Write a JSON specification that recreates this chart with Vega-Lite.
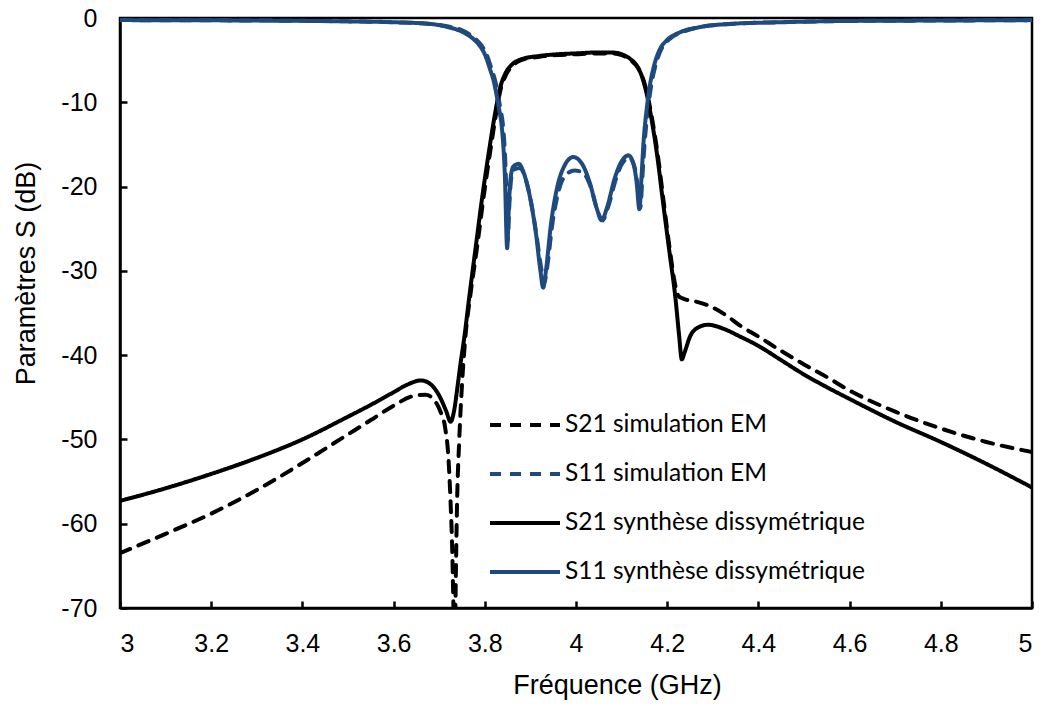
{
  "$schema": "https://vega.github.io/schema/vega-lite/v6.json",
  "width": 912,
  "height": 590,
  "autosize": {"type": "none"},
  "padding": {"left": 120, "top": 18, "right": 10, "bottom": 98},
  "background": "white",
  "config": {
    "view": {"stroke": "black", "strokeWidth": 2.5},
    "axis": {
      "labelFont": "Liberation Sans",
      "titleFont": "Liberation Sans",
      "labelFontSize": 25,
      "titleFontSize": 27,
      "labelColor": "black",
      "titleColor": "black",
      "titleFontWeight": "normal",
      "domainColor": "black",
      "domainWidth": 2.5,
      "tickColor": "black",
      "tickWidth": 2.5,
      "tickSize": -7,
      "grid": false
    },
    "legend": {
      "labelFont": "Lato",
      "labelFontSize": 24.5,
      "labelColor": "black",
      "labelLimit": 0
    }
  },
  "data": {"values": [
    {"f":3.0,"v":-63.5,"s":"S21 simulation EM"},
    {"f":3.1,"v":-61.2,"s":"S21 simulation EM"},
    {"f":3.2,"v":-58.8,"s":"S21 simulation EM"},
    {"f":3.3,"v":-56.0,"s":"S21 simulation EM"},
    {"f":3.4,"v":-52.8,"s":"S21 simulation EM"},
    {"f":3.5,"v":-49.4,"s":"S21 simulation EM"},
    {"f":3.55,"v":-47.7,"s":"S21 simulation EM"},
    {"f":3.6,"v":-46.0,"s":"S21 simulation EM"},
    {"f":3.64,"v":-44.9,"s":"S21 simulation EM"},
    {"f":3.67,"v":-44.7,"s":"S21 simulation EM"},
    {"f":3.69,"v":-45.4,"s":"S21 simulation EM"},
    {"f":3.702,"v":-46.6,"s":"S21 simulation EM"},
    {"f":3.713,"v":-48.6,"s":"S21 simulation EM"},
    {"f":3.72,"v":-52.0,"s":"S21 simulation EM"},
    {"f":3.725,"v":-57.5,"s":"S21 simulation EM"},
    {"f":3.729,"v":-64.0,"s":"S21 simulation EM"},
    {"f":3.732,"v":-72.0,"s":"S21 simulation EM"},
    {"f":3.734,"v":-76.0,"s":"S21 simulation EM"},
    {"f":3.736,"v":-68.0,"s":"S21 simulation EM"},
    {"f":3.739,"v":-58.0,"s":"S21 simulation EM"},
    {"f":3.744,"v":-50.0,"s":"S21 simulation EM"},
    {"f":3.75,"v":-43.5,"s":"S21 simulation EM"},
    {"f":3.758,"v":-37.5,"s":"S21 simulation EM"},
    {"f":3.768,"v":-33.0,"s":"S21 simulation EM"},
    {"f":3.783,"v":-27.2,"s":"S21 simulation EM"},
    {"f":3.798,"v":-21.0,"s":"S21 simulation EM"},
    {"f":3.812,"v":-15.8,"s":"S21 simulation EM"},
    {"f":3.824,"v":-11.6,"s":"S21 simulation EM"},
    {"f":3.835,"v":-8.4,"s":"S21 simulation EM"},
    {"f":3.847,"v":-6.7,"s":"S21 simulation EM"},
    {"f":3.862,"v":-5.6,"s":"S21 simulation EM"},
    {"f":3.88,"v":-5.0,"s":"S21 simulation EM"},
    {"f":3.92,"v":-4.6,"s":"S21 simulation EM"},
    {"f":3.96,"v":-4.4,"s":"S21 simulation EM"},
    {"f":4.0,"v":-4.3,"s":"S21 simulation EM"},
    {"f":4.04,"v":-4.2,"s":"S21 simulation EM"},
    {"f":4.08,"v":-4.2,"s":"S21 simulation EM"},
    {"f":4.1,"v":-4.4,"s":"S21 simulation EM"},
    {"f":4.12,"v":-5.0,"s":"S21 simulation EM"},
    {"f":4.137,"v":-6.0,"s":"S21 simulation EM"},
    {"f":4.147,"v":-7.2,"s":"S21 simulation EM"},
    {"f":4.157,"v":-9.2,"s":"S21 simulation EM"},
    {"f":4.167,"v":-12.0,"s":"S21 simulation EM"},
    {"f":4.18,"v":-16.5,"s":"S21 simulation EM"},
    {"f":4.192,"v":-21.7,"s":"S21 simulation EM"},
    {"f":4.207,"v":-28.0,"s":"S21 simulation EM"},
    {"f":4.218,"v":-31.8,"s":"S21 simulation EM"},
    {"f":4.225,"v":-33.0,"s":"S21 simulation EM"},
    {"f":4.235,"v":-33.3,"s":"S21 simulation EM"},
    {"f":4.26,"v":-33.6,"s":"S21 simulation EM"},
    {"f":4.29,"v":-34.1,"s":"S21 simulation EM"},
    {"f":4.33,"v":-35.3,"s":"S21 simulation EM"},
    {"f":4.36,"v":-36.5,"s":"S21 simulation EM"},
    {"f":4.4,"v":-37.8,"s":"S21 simulation EM"},
    {"f":4.45,"v":-39.5,"s":"S21 simulation EM"},
    {"f":4.5,"v":-41.1,"s":"S21 simulation EM"},
    {"f":4.55,"v":-42.6,"s":"S21 simulation EM"},
    {"f":4.6,"v":-44.2,"s":"S21 simulation EM"},
    {"f":4.7,"v":-46.7,"s":"S21 simulation EM"},
    {"f":4.8,"v":-48.7,"s":"S21 simulation EM"},
    {"f":4.9,"v":-50.3,"s":"S21 simulation EM"},
    {"f":5.0,"v":-51.5,"s":"S21 simulation EM"},

    {"f":3.0,"v":-0.25,"s":"S11 simulation EM"},
    {"f":3.3,"v":-0.3,"s":"S11 simulation EM"},
    {"f":3.5,"v":-0.4,"s":"S11 simulation EM"},
    {"f":3.6,"v":-0.5,"s":"S11 simulation EM"},
    {"f":3.68,"v":-0.7,"s":"S11 simulation EM"},
    {"f":3.72,"v":-1.0,"s":"S11 simulation EM"},
    {"f":3.756,"v":-1.6,"s":"S11 simulation EM"},
    {"f":3.778,"v":-2.4,"s":"S11 simulation EM"},
    {"f":3.792,"v":-3.2,"s":"S11 simulation EM"},
    {"f":3.803,"v":-4.2,"s":"S11 simulation EM"},
    {"f":3.814,"v":-5.9,"s":"S11 simulation EM"},
    {"f":3.823,"v":-7.5,"s":"S11 simulation EM"},
    {"f":3.829,"v":-9.1,"s":"S11 simulation EM"},
    {"f":3.835,"v":-11.0,"s":"S11 simulation EM"},
    {"f":3.84,"v":-12.8,"s":"S11 simulation EM"},
    {"f":3.846,"v":-18.5,"s":"S11 simulation EM"},
    {"f":3.85,"v":-26.5,"s":"S11 simulation EM"},
    {"f":3.854,"v":-22.0,"s":"S11 simulation EM"},
    {"f":3.858,"v":-19.0,"s":"S11 simulation EM"},
    {"f":3.864,"v":-18.0,"s":"S11 simulation EM"},
    {"f":3.877,"v":-17.8,"s":"S11 simulation EM"},
    {"f":3.89,"v":-19.2,"s":"S11 simulation EM"},
    {"f":3.902,"v":-22.0,"s":"S11 simulation EM"},
    {"f":3.914,"v":-26.0,"s":"S11 simulation EM"},
    {"f":3.924,"v":-29.8,"s":"S11 simulation EM"},
    {"f":3.93,"v":-31.5,"s":"S11 simulation EM"},
    {"f":3.937,"v":-29.5,"s":"S11 simulation EM"},
    {"f":3.948,"v":-24.5,"s":"S11 simulation EM"},
    {"f":3.962,"v":-20.5,"s":"S11 simulation EM"},
    {"f":3.978,"v":-18.6,"s":"S11 simulation EM"},
    {"f":3.997,"v":-18.1,"s":"S11 simulation EM"},
    {"f":4.014,"v":-18.3,"s":"S11 simulation EM"},
    {"f":4.032,"v":-20.0,"s":"S11 simulation EM"},
    {"f":4.047,"v":-22.8,"s":"S11 simulation EM"},
    {"f":4.058,"v":-24.0,"s":"S11 simulation EM"},
    {"f":4.07,"v":-22.5,"s":"S11 simulation EM"},
    {"f":4.087,"v":-19.2,"s":"S11 simulation EM"},
    {"f":4.102,"v":-17.2,"s":"S11 simulation EM"},
    {"f":4.117,"v":-16.6,"s":"S11 simulation EM"},
    {"f":4.128,"v":-17.6,"s":"S11 simulation EM"},
    {"f":4.135,"v":-19.8,"s":"S11 simulation EM"},
    {"f":4.141,"v":-22.5,"s":"S11 simulation EM"},
    {"f":4.146,"v":-18.5,"s":"S11 simulation EM"},
    {"f":4.151,"v":-14.5,"s":"S11 simulation EM"},
    {"f":4.158,"v":-10.8,"s":"S11 simulation EM"},
    {"f":4.165,"v":-8.0,"s":"S11 simulation EM"},
    {"f":4.175,"v":-5.5,"s":"S11 simulation EM"},
    {"f":4.187,"v":-3.7,"s":"S11 simulation EM"},
    {"f":4.203,"v":-2.6,"s":"S11 simulation EM"},
    {"f":4.232,"v":-1.7,"s":"S11 simulation EM"},
    {"f":4.27,"v":-1.1,"s":"S11 simulation EM"},
    {"f":4.34,"v":-0.7,"s":"S11 simulation EM"},
    {"f":4.45,"v":-0.5,"s":"S11 simulation EM"},
    {"f":4.6,"v":-0.35,"s":"S11 simulation EM"},
    {"f":4.8,"v":-0.3,"s":"S11 simulation EM"},
    {"f":5.0,"v":-0.25,"s":"S11 simulation EM"},

    {"f":3.0,"v":-57.3,"s":"S21 synthèse dissymétrique"},
    {"f":3.1,"v":-55.8,"s":"S21 synthèse dissymétrique"},
    {"f":3.2,"v":-54.1,"s":"S21 synthèse dissymétrique"},
    {"f":3.3,"v":-52.2,"s":"S21 synthèse dissymétrique"},
    {"f":3.4,"v":-50.0,"s":"S21 synthèse dissymétrique"},
    {"f":3.5,"v":-47.3,"s":"S21 synthèse dissymétrique"},
    {"f":3.55,"v":-45.9,"s":"S21 synthèse dissymétrique"},
    {"f":3.6,"v":-44.4,"s":"S21 synthèse dissymétrique"},
    {"f":3.63,"v":-43.5,"s":"S21 synthèse dissymétrique"},
    {"f":3.66,"v":-43.0,"s":"S21 synthèse dissymétrique"},
    {"f":3.68,"v":-43.4,"s":"S21 synthèse dissymétrique"},
    {"f":3.7,"v":-44.8,"s":"S21 synthèse dissymétrique"},
    {"f":3.715,"v":-46.6,"s":"S21 synthèse dissymétrique"},
    {"f":3.725,"v":-47.9,"s":"S21 synthèse dissymétrique"},
    {"f":3.733,"v":-46.5,"s":"S21 synthèse dissymétrique"},
    {"f":3.74,"v":-43.8,"s":"S21 synthèse dissymétrique"},
    {"f":3.746,"v":-41.3,"s":"S21 synthèse dissymétrique"},
    {"f":3.756,"v":-37.5,"s":"S21 synthèse dissymétrique"},
    {"f":3.765,"v":-33.5,"s":"S21 synthèse dissymétrique"},
    {"f":3.78,"v":-27.2,"s":"S21 synthèse dissymétrique"},
    {"f":3.795,"v":-21.0,"s":"S21 synthèse dissymétrique"},
    {"f":3.81,"v":-15.5,"s":"S21 synthèse dissymétrique"},
    {"f":3.822,"v":-11.5,"s":"S21 synthèse dissymétrique"},
    {"f":3.833,"v":-8.4,"s":"S21 synthèse dissymétrique"},
    {"f":3.845,"v":-6.6,"s":"S21 synthèse dissymétrique"},
    {"f":3.86,"v":-5.5,"s":"S21 synthèse dissymétrique"},
    {"f":3.88,"v":-4.9,"s":"S21 synthèse dissymétrique"},
    {"f":3.92,"v":-4.5,"s":"S21 synthèse dissymétrique"},
    {"f":3.96,"v":-4.3,"s":"S21 synthèse dissymétrique"},
    {"f":4.0,"v":-4.2,"s":"S21 synthèse dissymétrique"},
    {"f":4.04,"v":-4.1,"s":"S21 synthèse dissymétrique"},
    {"f":4.08,"v":-4.1,"s":"S21 synthèse dissymétrique"},
    {"f":4.1,"v":-4.3,"s":"S21 synthèse dissymétrique"},
    {"f":4.12,"v":-4.9,"s":"S21 synthèse dissymétrique"},
    {"f":4.135,"v":-5.8,"s":"S21 synthèse dissymétrique"},
    {"f":4.145,"v":-7.0,"s":"S21 synthèse dissymétrique"},
    {"f":4.155,"v":-9.0,"s":"S21 synthèse dissymétrique"},
    {"f":4.165,"v":-11.8,"s":"S21 synthèse dissymétrique"},
    {"f":4.178,"v":-16.3,"s":"S21 synthèse dissymétrique"},
    {"f":4.19,"v":-21.5,"s":"S21 synthèse dissymétrique"},
    {"f":4.205,"v":-27.8,"s":"S21 synthèse dissymétrique"},
    {"f":4.218,"v":-33.2,"s":"S21 synthèse dissymétrique"},
    {"f":4.226,"v":-37.6,"s":"S21 synthèse dissymétrique"},
    {"f":4.232,"v":-40.5,"s":"S21 synthèse dissymétrique"},
    {"f":4.238,"v":-39.7,"s":"S21 synthèse dissymétrique"},
    {"f":4.25,"v":-37.8,"s":"S21 synthèse dissymétrique"},
    {"f":4.265,"v":-36.8,"s":"S21 synthèse dissymétrique"},
    {"f":4.29,"v":-36.4,"s":"S21 synthèse dissymétrique"},
    {"f":4.32,"v":-36.8,"s":"S21 synthèse dissymétrique"},
    {"f":4.36,"v":-37.8,"s":"S21 synthèse dissymétrique"},
    {"f":4.4,"v":-38.9,"s":"S21 synthèse dissymétrique"},
    {"f":4.45,"v":-40.6,"s":"S21 synthèse dissymétrique"},
    {"f":4.5,"v":-42.3,"s":"S21 synthèse dissymétrique"},
    {"f":4.55,"v":-43.8,"s":"S21 synthèse dissymétrique"},
    {"f":4.6,"v":-45.2,"s":"S21 synthèse dissymétrique"},
    {"f":4.7,"v":-47.9,"s":"S21 synthèse dissymétrique"},
    {"f":4.8,"v":-50.3,"s":"S21 synthèse dissymétrique"},
    {"f":4.9,"v":-52.9,"s":"S21 synthèse dissymétrique"},
    {"f":5.0,"v":-55.7,"s":"S21 synthèse dissymétrique"},

    {"f":3.0,"v":-0.25,"s":"S11 synthèse dissymétrique"},
    {"f":3.3,"v":-0.3,"s":"S11 synthèse dissymétrique"},
    {"f":3.5,"v":-0.4,"s":"S11 synthèse dissymétrique"},
    {"f":3.6,"v":-0.5,"s":"S11 synthèse dissymétrique"},
    {"f":3.68,"v":-0.7,"s":"S11 synthèse dissymétrique"},
    {"f":3.72,"v":-1.1,"s":"S11 synthèse dissymétrique"},
    {"f":3.753,"v":-1.7,"s":"S11 synthèse dissymétrique"},
    {"f":3.775,"v":-2.5,"s":"S11 synthèse dissymétrique"},
    {"f":3.789,"v":-3.3,"s":"S11 synthèse dissymétrique"},
    {"f":3.8,"v":-4.3,"s":"S11 synthèse dissymétrique"},
    {"f":3.811,"v":-6.0,"s":"S11 synthèse dissymétrique"},
    {"f":3.82,"v":-7.6,"s":"S11 synthèse dissymétrique"},
    {"f":3.826,"v":-9.2,"s":"S11 synthèse dissymétrique"},
    {"f":3.832,"v":-11.0,"s":"S11 synthèse dissymétrique"},
    {"f":3.837,"v":-12.8,"s":"S11 synthèse dissymétrique"},
    {"f":3.844,"v":-18.7,"s":"S11 synthèse dissymétrique"},
    {"f":3.849,"v":-27.3,"s":"S11 synthèse dissymétrique"},
    {"f":3.853,"v":-22.0,"s":"S11 synthèse dissymétrique"},
    {"f":3.857,"v":-18.8,"s":"S11 synthèse dissymétrique"},
    {"f":3.863,"v":-17.6,"s":"S11 synthèse dissymétrique"},
    {"f":3.874,"v":-17.3,"s":"S11 synthèse dissymétrique"},
    {"f":3.888,"v":-18.8,"s":"S11 synthèse dissymétrique"},
    {"f":3.9,"v":-21.5,"s":"S11 synthèse dissymétrique"},
    {"f":3.912,"v":-25.5,"s":"S11 synthèse dissymétrique"},
    {"f":3.922,"v":-30.0,"s":"S11 synthèse dissymétrique"},
    {"f":3.928,"v":-32.0,"s":"S11 synthèse dissymétrique"},
    {"f":3.934,"v":-30.0,"s":"S11 synthèse dissymétrique"},
    {"f":3.945,"v":-24.5,"s":"S11 synthèse dissymétrique"},
    {"f":3.96,"v":-19.8,"s":"S11 synthèse dissymétrique"},
    {"f":3.975,"v":-17.5,"s":"S11 synthèse dissymétrique"},
    {"f":3.994,"v":-16.5,"s":"S11 synthèse dissymétrique"},
    {"f":4.012,"v":-17.2,"s":"S11 synthèse dissymétrique"},
    {"f":4.03,"v":-19.5,"s":"S11 synthèse dissymétrique"},
    {"f":4.045,"v":-22.5,"s":"S11 synthèse dissymétrique"},
    {"f":4.056,"v":-24.0,"s":"S11 synthèse dissymétrique"},
    {"f":4.068,"v":-22.5,"s":"S11 synthèse dissymétrique"},
    {"f":4.085,"v":-19.0,"s":"S11 synthèse dissymétrique"},
    {"f":4.1,"v":-17.0,"s":"S11 synthèse dissymétrique"},
    {"f":4.115,"v":-16.3,"s":"S11 synthèse dissymétrique"},
    {"f":4.126,"v":-17.3,"s":"S11 synthèse dissymétrique"},
    {"f":4.133,"v":-19.5,"s":"S11 synthèse dissymétrique"},
    {"f":4.139,"v":-22.7,"s":"S11 synthèse dissymétrique"},
    {"f":4.144,"v":-18.5,"s":"S11 synthèse dissymétrique"},
    {"f":4.148,"v":-14.8,"s":"S11 synthèse dissymétrique"},
    {"f":4.155,"v":-10.8,"s":"S11 synthèse dissymétrique"},
    {"f":4.162,"v":-8.0,"s":"S11 synthèse dissymétrique"},
    {"f":4.172,"v":-5.5,"s":"S11 synthèse dissymétrique"},
    {"f":4.184,"v":-3.7,"s":"S11 synthèse dissymétrique"},
    {"f":4.2,"v":-2.6,"s":"S11 synthèse dissymétrique"},
    {"f":4.228,"v":-1.7,"s":"S11 synthèse dissymétrique"},
    {"f":4.27,"v":-1.1,"s":"S11 synthèse dissymétrique"},
    {"f":4.338,"v":-0.7,"s":"S11 synthèse dissymétrique"},
    {"f":4.45,"v":-0.5,"s":"S11 synthèse dissymétrique"},
    {"f":4.6,"v":-0.35,"s":"S11 synthèse dissymétrique"},
    {"f":4.8,"v":-0.3,"s":"S11 synthèse dissymétrique"},
    {"f":5.0,"v":-0.25,"s":"S11 synthèse dissymétrique"}
  ]},
  "mark": {"type": "line", "strokeWidth": 4, "interpolate": "monotone", "clip": true, "strokeCap": "round", "strokeJoin": "round"},
  "encoding": {
    "x": {
      "field": "f", "type": "quantitative",
      "scale": {"domain": [3, 5], "nice": false, "zero": false},
      "axis": {"values": [3, 3.2, 3.4, 3.6, 3.8, 4, 4.2, 4.4, 4.6, 4.8, 5], "labelExpr": "'' + datum.value", "title": "Fréquence (GHz)", "labelPadding": 30, "titlePadding": 16, "titleX": 497}
    },
    "y": {
      "field": "v", "type": "quantitative",
      "scale": {"domain": [-70, 0], "nice": false, "zero": false},
      "axis": {"values": [-70, -60, -50, -40, -30, -20, -10, 0], "labelExpr": "'' + datum.value", "title": "Paramètres S (dB)", "labelPadding": 30, "titlePadding": 20, "titleY": 255}
    },
    "color": {
      "field": "s", "type": "nominal",
      "scale": {"domain": ["S21 simulation EM", "S11 simulation EM", "S21 synthèse dissymétrique", "S11 synthèse dissymétrique"], "range": ["#000000", "#1F4A7F", "#000000", "#1F4A7F"]},
      "legend": {"title": null, "orient": "none", "legendX": 368, "legendY": 370, "symbolType": "stroke", "symbolSize": 4900, "symbolStrokeWidth": 4, "labelOffset": 3, "rowPadding": 0}
    },
    "strokeDash": {
      "field": "s", "type": "nominal",
      "scale": {"domain": ["S21 simulation EM", "S11 simulation EM", "S21 synthèse dissymétrique", "S11 synthèse dissymétrique"], "range": [[11, 9], [11, 9], [1, 0], [1, 0]]},
      "legend": {"title": null, "orient": "none", "legendX": 368, "legendY": 370, "symbolType": "stroke", "symbolSize": 4900, "symbolStrokeWidth": 4, "labelOffset": 3, "rowPadding": 0}
    }
  }
}
